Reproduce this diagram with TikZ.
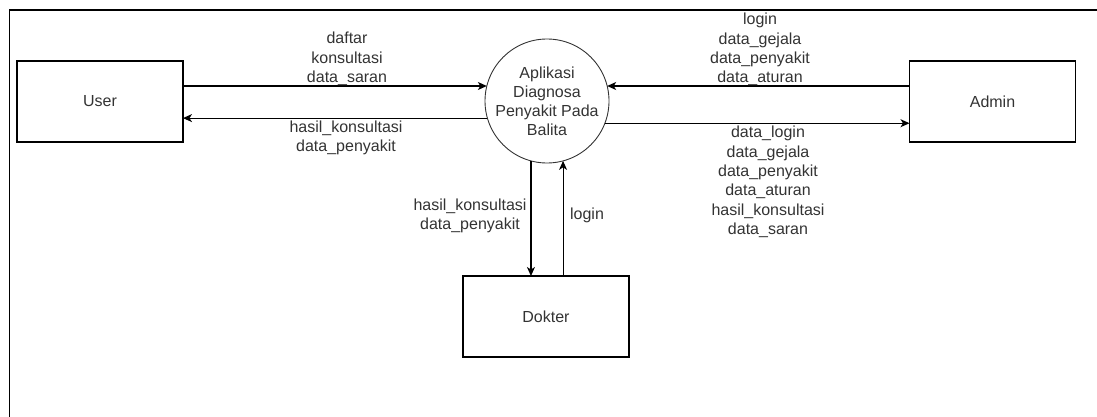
\documentclass[tikz,border=0pt]{standalone}
\usepackage{fontspec}
\setmainfont{Liberation Sans}
\usetikzlibrary{arrows.meta}
\definecolor{txt}{HTML}{333333}
\tikzset{
  ent/.style={draw=black, line width=1.1pt, minimum width=166pt, minimum height=81pt, inner sep=0pt, outer sep=0pt, text=txt, font=\fontsize{16}{19.4}\selectfont},
  proc/.style={draw=black!80, line width=0.9pt, circle, minimum size=108pt, inner sep=0pt, outer sep=0pt, text=txt, align=center, font=\fontsize{16}{19}\selectfont},
  lbl/.style={align=center, text=txt, inner sep=0pt, font=\fontsize{16}{19.4}\selectfont},
  flow/.style={draw=black, line width=1.1pt, -{Stealth[length=9pt,width=8pt,inset=2.5pt]}},
  frame/.style={draw=black, line width=1.2pt}
}
\begin{document}
\begin{tikzpicture}[x=1pt,y=-1pt]
\useasboundingbox (0,0) rectangle (1097,417);
% frame (partially visible)
\coordinate (fbl) at (9.5,417);
\coordinate (ftl) at (9.5,10);
\coordinate (ftr) at (1097,10);
\draw[frame] (fbl) -- (ftl) -- (ftr);
% entities
\node[ent] (user) at (100,101.5) {User};
\node[ent] (admin) at (992.5,101.5) {Admin};
\node[ent] (dokter) at (546,316.5) {Dokter};
\node[proc] (circ) at (547,101) {Aplikasi\\Diagnosa\\Penyakit Pada\\Balita};
% flows
\draw[flow] (user.east |- circ.166) -- (circ.166);
\draw[flow] (circ.196) -- (user.east |- circ.196);
\draw[flow] (admin.west |- circ.14) -- (circ.14);
\draw[flow] (circ.-21.7) -- (admin.west |- circ.-21.7);
\draw[flow] (circ.-105) -- (circ.-105 |- dokter.north);
\draw[flow] (circ.-75 |- dokter.north) -- (circ.-75);
% labels
\node[lbl] (l1) at (347,59) {daftar\\konsultasi\\data\_saran};
\node[lbl] (l2) at (346,138) {hasil\_konsultasi\\data\_penyakit};
\node[lbl] (l3) at (760,49.5) {login\\data\_gejala\\data\_penyakit\\data\_aturan};
\node[lbl] (l4) at (768,182) {data\_login\\data\_gejala\\data\_penyakit\\data\_aturan\\hasil\_konsultasi\\data\_saran};
\node[lbl] (l5) at (470,216) {hasil\_konsultasi\\data\_penyakit};
\node[lbl] (l6) at (587,215) {login};
\end{tikzpicture}
\end{document}
